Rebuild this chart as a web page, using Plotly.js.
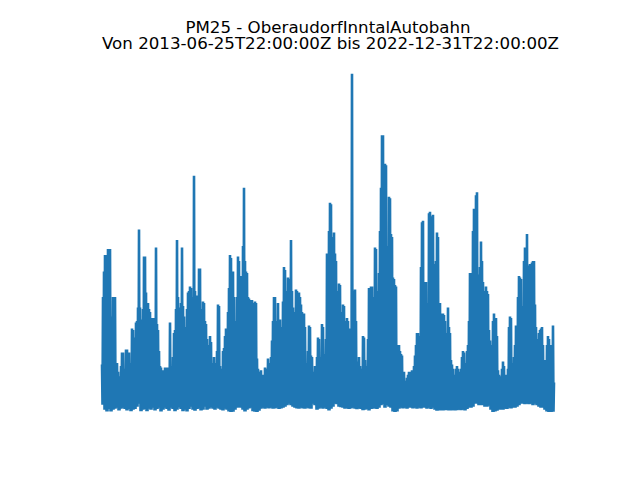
<!DOCTYPE html>
<html>
<head>
<meta charset="utf-8">
<script src="https://cdn.plot.ly/plotly-3.0.1.min.js"></script>
<style>html,body{margin:0;padding:0;background:#fff}#chart{width:640px;height:480px}</style>
</head>
<body>
<div id="chart"></div>
<script>
var titleLine1 = "PM25 - OberaudorfInntalAutobahn";
var titleLine2 = "Von 2013-06-25T22:00:00Z bis 2022-12-31T22:00:00Z";
var startTime = "2013-06-25T22:00:00Z";
var endTime = "2022-12-31T22:00:00Z";

// Upper envelope, left to right
var highs = [
15.5,38,46.5,52,52,46,54,54,54,31.5,
25,38,38,38,16,16,13,11.5,10,15,
19.5,19.5,12,14,20.5,20.5,16,19.5,12,16,
27.5,27,24.5,22,29.5,30,34.5,60.5,34.5,30,
30.5,34,51.5,51.5,39.5,35,36,34,33,31,
31,28,31,30,54.5,29,27,20,15,14.5,
13,13.5,12,14.5,14.5,14.5,14.5,13,29.5,15,
13,18,26,27,34,57,38,34.5,30,36,
54.5,35,31.5,28,25.5,34,39.5,40,41.5,41,
33,38,78.5,40,38,38.5,37,47.5,47.5,32,
34,36.5,36,30,29,24,21,22,25,23,
16,14,18,16,16,20,35.5,35,15,13,
14,20,21,25,27.5,27,33,41,52,51,
45,46.5,38,30,28,38,51.5,50,38.5,45,
45,55,74.5,50,46.5,46,38,37.5,37,36,
37,36,36,36.5,36,17.5,14,10,13,13.5,
12,10,12,14.5,14,14,17.5,16,13,18,
23.5,30,38,38,29,30,36,30,30.5,28,
25,36.5,48,47,40,39,44.5,44,38,57,
40,34.5,30,33,40.5,40,38,39.5,38,35.5,
33,25,32.5,28,16,15,20,28.5,28,18.5,
18,12,13,15,14,18,24.5,24,11,18,
29,28,19,17,24,52.5,52,60,69.5,69,
52,58,59.5,52.5,50,38,40,42.5,42,33,
30,35.5,35,30,26,31,30,27.5,27,27,
112.5,40,40,40.5,30,16.5,16,18,15,12.5,
14,25,24.5,17,15,15,24,41,41,41.5,
41.5,34,38,54.5,54,36,40,46,60,74.5,
92,92,70,82.5,82,40.5,55,71.5,71,59,
58,44.5,44,42,41.5,22,22,22,20,19,
18.5,13,13,10,9.5,11,12,13,13,12,
13.5,13.5,15,18.5,22,26,26,20,25,48,
63,63.5,40,43,43,36,33,66,66.5,65,
65,65.5,49,45,50,59.5,58,36,36,32,
32.5,32.5,32,30,20.5,26,34.5,28,26,17,
15.5,14,10.5,12,14,15,14,13,13,14,
18,20,19.5,16,16,20,22,30,46,46,
45,60,67.5,67,72,73,45.5,45,48,56.5,
50,43,38,40,41.5,40,39,27,23.5,22,
22,30,32.5,31,31,25,13.5,12,11.5,11.5,
14,16.5,15,12,12,12,14,28,31.5,31,
16,13,18,22,28.5,28,38,45,44.5,44,
33,35,50,54.5,54,59,48.5,48,49,49,
49.5,50,50,35.5,28,22.5,24,26,27,27.5,
28,22,17,16.5,17,22,25,24,22,22,
18,28.5,9.5
];

// Lower envelope, one entry for each pair of highs
var lows = [
2,0.4,-0.2,0.6,-0.2,0.4,0.7,1,0.1,0.7,1,0.6,0.1,0.6,-0.1,0.4,0.6,1.4,2.4,
-0.1,0.4,0.6,-0.1,0.7,0.4,1,0.1,0.6,1,-0.2,0.4,1,0.6,0,1,0.6,-0.1,0.4,1.1,0.6,-0.1,0.4,-0.2,0.6,1.4,0.4,0,0.6,0.8,0.1,
0.4,1.4,0.4,0.7,1.1,0.7,0.4,1,0.7,0.4,0.1,0.7,0.4,-0.2,-0.4,-0.3,0.4,1,1.1,1,0.4,-0.2,0.4,0.8,1,-0.1,-0.3,-0.4,0,0.7,
1,0.7,1,0.8,1,0.7,0.8,1,0.6,0.8,1,1.4,1.9,2.4,1.9,1.4,1,0.8,0.7,1,0.8,0.7,1,0.8,0.7,2.4,1.9,0.4,0.7,1,
0.7,1,0.6,0.1,0.7,1.4,2.4,2.2,1.4,1.2,1,0.7,0.8,0.6,0.8,1,0.7,0.5,0.8,0.6,0.2,0.4,0.6,0.1,0.6,0.7,0.8,0.6,1,1.9,
2.2,1,1.9,1.4,1,-0.2,-0.4,-0.2,0.7,1,0.8,1,0.7,1,1,0.8,1,0.7,1,0.8,1,1,0.7,1,0.6,1,0.4,0,0.1,0.1,
0.1,0.2,0.2,0.1,0.1,0.2,0.1,0.2,0.4,0.2,0.4,0.1,0.6,1,1,1.4,2.4,2.4,1.9,1.9,1.9,1.4,1.4,1.7,0.4,-0.4,-0.2,0,0.4,0.4,
0.4,0.7,0.6,1,0.8,1,1,1.4,1.9,2.4,2.4,2.2,2.4,2.2,2.4,1.9,2.4,1.9,1.4,1,1,0.4,-0.2,-0.4,-0.4,-0.3,1.4
];

var t0 = Date.parse(startTime), t1 = Date.parse(endTime);
var xs = [], ys = [];
var stepMs = (t1 - t0) / (highs.length - 1);
highs.forEach(function (h, i) {
  xs.push(new Date(t0 + i * stepMs).toISOString());
  ys.push(h);
  if (i < highs.length - 1) {
    xs.push(new Date(t0 + (i + 0.5) * stepMs).toISOString());
    ys.push(lows[Math.floor(i / 2)]);
  }
});
var pad = 0.0487 * (t1 - t0);

Plotly.newPlot("chart", [{
  type: "scatter",
  mode: "lines",
  x: xs,
  y: ys,
  line: {color: "#1f77b4", width: 2.6},
  hoverinfo: "skip"
}], {
  width: 640,
  height: 480,
  margin: {l: 80, r: 64, t: 57.6, b: 52.8, pad: 0},
  paper_bgcolor: "#ffffff",
  plot_bgcolor: "#ffffff",
  showlegend: false,
  font: {family: "DejaVu Sans", size: 16.67, color: "#000000"},
  title: {
    text: titleLine1,
    font: {family: "DejaVu Sans", size: 16.67, color: "#000000"},
    x: 0.5125, xref: "container", xanchor: "center",
    y: 0.943, yref: "container", yanchor: "middle"
  },
  annotations: [{
    text: titleLine2,
    xref: "paper", yref: "paper",
    x: 0.505, y: 1.0395,
    xanchor: "center", yanchor: "middle",
    showarrow: false,
    font: {family: "DejaVu Sans", size: 16.67, color: "#000000"}
  }],
  xaxis: {
    type: "date",
    visible: false,
    range: [new Date(t0 - pad).toISOString(), new Date(t1 + pad).toISOString()]
  },
  yaxis: {visible: false, range: [-5.4, 117.8]}
}, {staticPlot: true, displayModeBar: false});
</script>
</body>
</html>
